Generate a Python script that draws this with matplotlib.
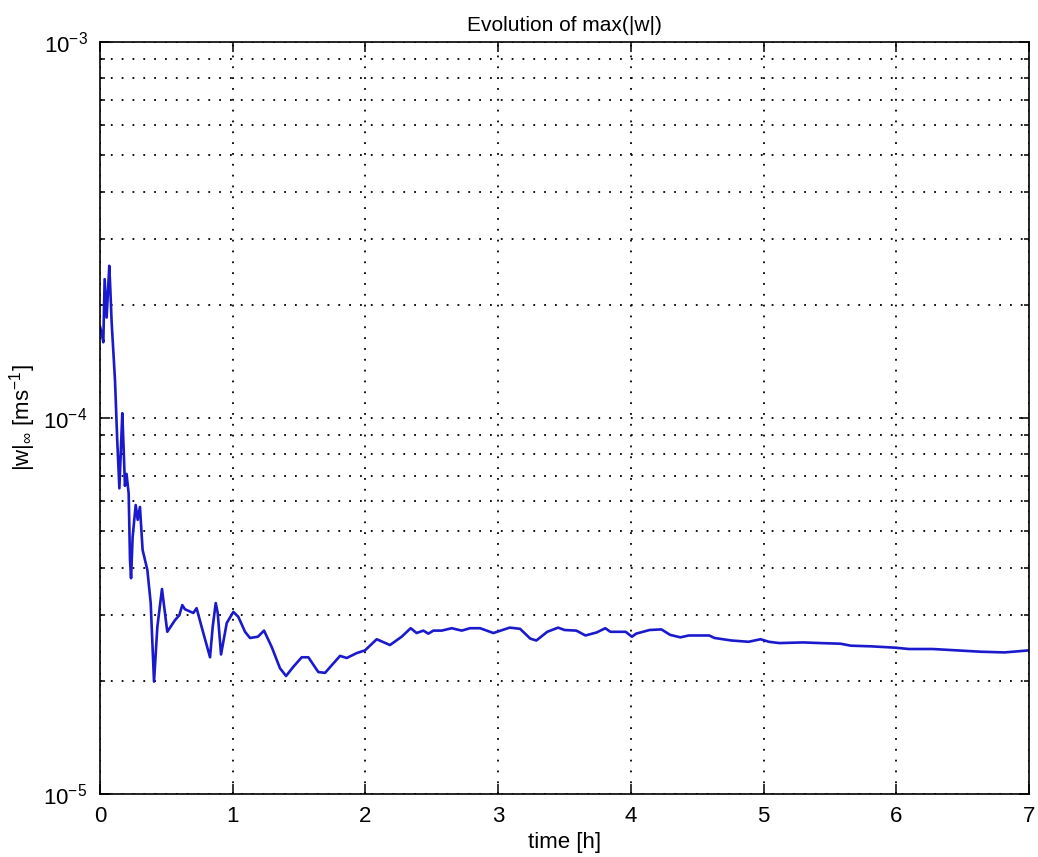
import matplotlib
matplotlib.use("Agg")
import matplotlib.pyplot as plt
import matplotlib.ticker as mticker
import numpy as np

# time [h] and max(|w|) [m/s]
time_h = [0.0, 0.013, 0.025, 0.035, 0.05, 0.07, 0.078, 0.088, 0.113, 0.13, 0.146,
          0.168, 0.176, 0.188, 0.2, 0.216, 0.226, 0.234, 0.246, 0.269, 0.284, 0.301,
          0.321, 0.357, 0.372, 0.382, 0.407, 0.432, 0.467, 0.507, 0.565, 0.598, 0.62,
          0.64, 0.703, 0.728, 0.766, 0.829, 0.849, 0.872, 0.887, 0.912, 0.955, 1.005,
          1.042, 1.093, 1.13, 1.19, 1.236, 1.294, 1.356, 1.402, 1.457, 1.52, 1.57,
          1.645, 1.696, 1.746, 1.809, 1.859, 1.934, 1.997, 2.085, 2.185, 2.273, 2.341,
          2.386, 2.436, 2.474, 2.512, 2.575, 2.65, 2.726, 2.788, 2.864, 2.964, 3.087,
          3.165, 3.242, 3.288, 3.37, 3.452, 3.5, 3.589, 3.658, 3.743, 3.807, 3.846,
          3.961, 4.008, 4.04, 4.141, 4.23, 4.296, 4.373, 4.437, 4.591, 4.63, 4.758,
          4.887, 4.977, 5.04, 5.118, 5.298, 5.427, 5.58, 5.658, 5.812, 5.992, 6.095,
          6.275, 6.455, 6.635, 6.815, 6.94, 7.0]
w_max = [1.75e-4, 1.68e-4, 1.59e-4, 2.34e-4, 1.85e-4, 2.54e-4, 2.19e-4, 1.79e-4,
         1.26e-4, 8.7e-5, 6.5e-5, 1.03e-4, 8.7e-5, 6.6e-5, 7.1e-5, 6.3e-5, 4.2e-5,
         3.75e-5, 4.83e-5, 5.87e-5, 5.36e-5, 5.8e-5, 4.46e-5, 3.94e-5, 3.49e-5,
         3.22e-5, 1.99e-5, 2.78e-5, 3.51e-5, 2.70e-5, 2.90e-5, 2.99e-5, 3.18e-5,
         3.10e-5, 3.03e-5, 3.12e-5, 2.78e-5, 2.31e-5, 2.78e-5, 3.22e-5, 3.03e-5,
         2.35e-5, 2.85e-5, 3.05e-5, 2.96e-5, 2.70e-5, 2.60e-5, 2.62e-5, 2.72e-5,
         2.46e-5, 2.16e-5, 2.06e-5, 2.18e-5, 2.31e-5, 2.31e-5, 2.11e-5, 2.10e-5,
         2.20e-5, 2.33e-5, 2.30e-5, 2.37e-5, 2.41e-5, 2.58e-5, 2.49e-5, 2.62e-5,
         2.76e-5, 2.68e-5, 2.72e-5, 2.67e-5, 2.72e-5, 2.72e-5, 2.76e-5, 2.72e-5,
         2.76e-5, 2.76e-5, 2.68e-5, 2.77e-5, 2.75e-5, 2.59e-5, 2.56e-5, 2.70e-5,
         2.77e-5, 2.73e-5, 2.72e-5, 2.64e-5, 2.69e-5, 2.76e-5, 2.70e-5, 2.70e-5,
         2.62e-5, 2.67e-5, 2.73e-5, 2.74e-5, 2.65e-5, 2.61e-5, 2.64e-5, 2.64e-5,
         2.60e-5, 2.56e-5, 2.54e-5, 2.58e-5, 2.54e-5, 2.52e-5, 2.53e-5, 2.52e-5,
         2.51e-5, 2.48e-5, 2.47e-5, 2.45e-5, 2.43e-5, 2.43e-5, 2.41e-5, 2.39e-5,
         2.38e-5, 2.40e-5, 2.41e-5]

x_ticks = [0, 1, 2, 3, 4, 5, 6, 7]

params = {'font.family': ['Liberation Sans', 'DejaVu Sans'],
          'font.size': 15,
          'mathtext.fontset': 'custom',
          'mathtext.rm': 'Liberation Sans',
          'mathtext.it': 'Liberation Sans:italic',
          'mathtext.bf': 'Liberation Sans:bold',
          'xtick.labelsize': 16,
          'ytick.labelsize': 16}
plt.rcParams.update(params)

fig = plt.figure(figsize=(10.38, 8.57), dpi=100)
ax = fig.add_axes([100 / 1038, 1 - 794 / 857, 929 / 1038, 752 / 857])

ax.plot(time_h, w_max, color=(0.1, 0.1, 0.8), lw=1.9)

ax.set_yscale('log')
ax.set_xlim(0, 7)
ax.set_ylim(1e-5, 1e-3)
ax.set_xticks(x_ticks)
ax.xaxis.set_minor_locator(mticker.NullLocator())
ax.yaxis.set_minor_locator(mticker.LogLocator(base=10, subs=np.arange(2, 10)))
ax.yaxis.set_minor_formatter(mticker.NullFormatter())

dots = (0, (1, 5))
ax.grid(True, which='major', axis='both', color='k', ls=dots, lw=1.3)
ax.grid(True, which='minor', axis='y', color='k', ls=dots, lw=1.3)

ax.tick_params(which='both', direction='in', top=True, right=True, color='k')
ax.tick_params(which='major', length=7, width=1.1, pad=9)
ax.tick_params(which='minor', length=3.6, width=1.1)
for s in ax.spines.values():
    s.set_linewidth(1.2)

ax.set_title('Evolution of max(|w|)', fontsize=15, pad=8)
ax.set_xlabel('time [h]', fontsize=16, labelpad=3)
ax.set_ylabel(r'|w|$_{\infty}$ [ms$^{-1}$]', fontsize=16, labelpad=4)

fig.savefig('out.png', dpi=100)
